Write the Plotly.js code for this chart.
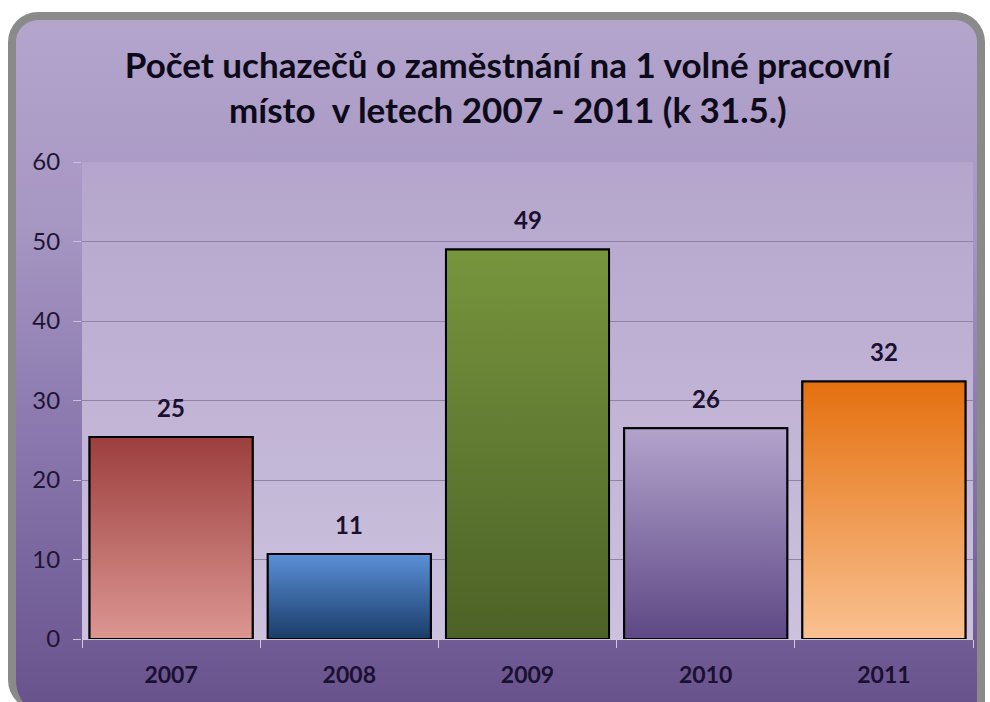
<!DOCTYPE html>
<html>
<head>
<meta charset="utf-8">
<script src="https://cdn.plot.ly/plotly-3.0.1.min.js"></script>
<style>
  html, body { margin:0; padding:0; width:990px; height:702px; overflow:hidden; background:#ffffff; }
  #frame { position:absolute; left:8px; top:12px; width:961px; height:690px; border:8px solid #8a8a8a; border-bottom:none; border-radius:30px 30px 0 30px;
           background:linear-gradient(to bottom, #b4a5cd 0%, #a696c2 30%, #8a78ae 60%, #68528c 100%); }
  #chart { position:absolute; left:0; top:0; width:990px; height:702px; }
</style>
</head>
<body>
<div id="frame"></div>
<div id="chart"></div>
<script>
// ---- data ----
const years = ['2007', '2008', '2009', '2010', '2011'];
const values = [25.4, 10.7, 49.0, 26.5, 32.4];
const valueLabels = ['25', '11', '49', '26', '32'];
const topColors = ['#9c3f3e', '#5a90d8', '#77953d', '#b3a3cc', '#e4700e'];
const bottomColors = ['#dc9692', '#1b3c68', '#4c6227', '#5e4885', '#f9c191'];
const midColors = ['#bb6766', '#3a66a0', '#627c33', '#8976a8', '#ee9950'];

const halfW = 0.4575;
const idx = years.map((_, i) => i);

const traces = [];
// base bar trace
traces.push({
  type: 'bar', x: idx, y: values, width: 2 * halfW,
  marker: { color: midColors, line: { color: '#000000', width: 2 } },
  hoverinfo: 'x+y', showlegend: false
});
// gradient overlays built from the same data
idx.forEach(i => {
  traces.push({
    type: 'scatter', mode: 'lines',
    x: [i - halfW, i + halfW, i + halfW, i - halfW, i - halfW],
    y: [0, 0, values[i], values[i], 0],
    fill: 'toself',
    fillgradient: { type: 'vertical', colorscale: [[0, bottomColors[i]], [1, topColors[i]]] },
    line: { color: '#000000', width: 2 },
    hoverinfo: 'skip', showlegend: false
  });
});

const annotations = idx.map(i => ({
  x: i, y: values[i], xref: 'x', yref: 'y', text: '<b>' + valueLabels[i] + '</b>',
  showarrow: false, yanchor: 'bottom', yshift: 13,
  font: { family: 'Lato, sans-serif', size: 24, color: '#1a1030' }
}));

const bgSvg = 'data:image/svg+xml;utf8,' + encodeURIComponent(
  '<svg xmlns="http://www.w3.org/2000/svg" width="100" height="100" preserveAspectRatio="none">' +
  '<defs><linearGradient id="g" x1="0" y1="0" x2="0" y2="1">' +
  '<stop offset="0" stop-color="#b5a5cc"/><stop offset="1" stop-color="#ccc2de"/>' +
  '</linearGradient></defs><rect width="100" height="100" fill="url(#g)"/></svg>');

const layout = {
  width: 990, height: 702,
  paper_bgcolor: 'rgba(0,0,0,0)', plot_bgcolor: 'rgba(0,0,0,0)',
  margin: { l: 82, r: 17, t: 162, b: 63 },
  font: { family: 'Lato, sans-serif', color: '#1a1030' },
  title: {
    text: '<b>Počet uchazečů o zaměstnání na 1 volné pracovní<br>místo  v letech 2007 - 2011 (k 31.5.)</b>',
    font: { family: 'Lato, sans-serif', size: 35, color: '#0d0a1a' },
    x: 0.513, xref: 'container', xanchor: 'center',
    y: 0.889, yref: 'container', yanchor: 'middle'
  },
  xaxis: {
    range: [-0.5, 4.5], tickmode: 'array', tickvals: idx, ticktext: years.map(y => '<b>' + y + '</b>'),
    ticks: '', showgrid: false, zeroline: false, fixedrange: true,
    tickfont: { family: 'Lato, sans-serif', size: 23, color: '#1a1030' },
    ticklabelstandoff: 15,
    showline: true, linecolor: '#cfc6de', linewidth: 1,
    minor: { tickmode: 'linear', tick0: -0.5, dtick: 1, ticks: 'outside', ticklen: 8, tickcolor: '#d0c8e0', tickwidth: 1, showgrid: false }
  },
  yaxis: {
    range: [0, 60], dtick: 10, ticks: 'outside', ticklen: 8, tickcolor: '#c9c0da', tickwidth: 1,
    showgrid: true, gridcolor: '#8f83a3', gridwidth: 1, zeroline: false, fixedrange: true,
    tickfont: { family: 'Lato, sans-serif', size: 24, color: '#1e1533' },
    ticklabelstandoff: 8
  },
  images: [{ source: bgSvg, xref: 'paper', yref: 'paper', x: 0, y: 1, sizex: 1, sizey: 1,
             sizing: 'stretch', layer: 'below', xanchor: 'left', yanchor: 'top' }],
  annotations: annotations,
  bargap: 0
};

Plotly.newPlot('chart', traces, layout, { displayModeBar: false, staticPlot: true });
</script>
</body>
</html>
